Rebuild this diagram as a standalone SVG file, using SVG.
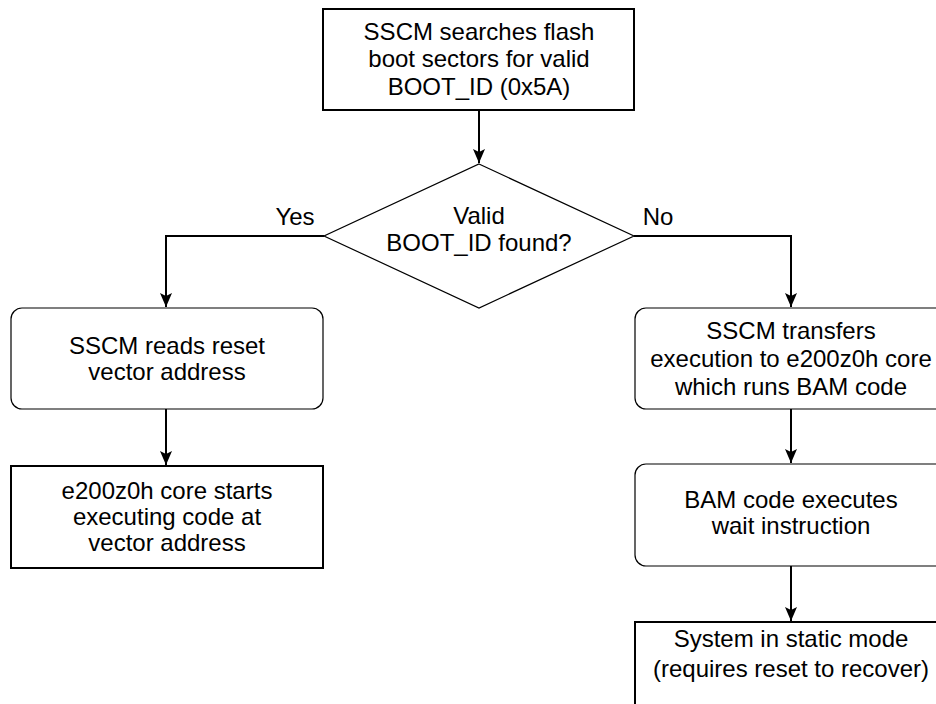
<svg xmlns="http://www.w3.org/2000/svg" width="936" height="704" viewBox="0 0 936 704">
<style>
.t{font-family:"Liberation Sans",Arial,Helvetica,sans-serif;font-size:24px;fill:#000;text-anchor:middle}
.thick{fill:#fff;stroke:#000;stroke-width:2}
.thin{fill:#fff;stroke:#000;stroke-width:1.2}
.c{fill:none;stroke:#000;stroke-width:2}
</style>
<defs>
<marker id="ah" markerUnits="userSpaceOnUse" markerWidth="16" markerHeight="14" refX="14" refY="6" orient="auto">
<path d="M0,0 L14,6 L0,12 L3,6 Z" fill="#000"/>
</marker>
</defs>
<rect width="936" height="704" fill="#fff"/>
<g id="connectors">
<path class="c" d="M479,110 V163" marker-end="url(#ah)"/>
<path class="c" d="M324,236 H166 V307" marker-end="url(#ah)"/>
<path class="c" d="M634,236 H791 V307" marker-end="url(#ah)"/>
<path class="c" d="M166,409 V465" marker-end="url(#ah)"/>
<path class="c" d="M791,409 V463" marker-end="url(#ah)"/>
<path class="c" d="M791,566 V621" marker-end="url(#ah)"/>
</g>
<g id="start">
<rect class="thick" x="323" y="9" width="311" height="101"/>
<text class="t" x="479" y="40">SSCM searches flash</text>
<text class="t" x="479" y="67">boot sectors for valid</text>
<text class="t" x="479" y="95">BOOT_ID (0x5A)</text>
</g>
<g id="decision">
<polygon class="thin" points="479,164 634,236 479,308 324,236"/>
<text class="t" x="479" y="224">Valid</text>
<text class="t" x="479" y="251">BOOT_ID found?</text>
</g>
<g id="label-yes"><text class="t" x="295" y="225">Yes</text></g>
<g id="label-no"><text class="t" x="658" y="225">No</text></g>
<g id="reads-vector">
<rect class="thin" x="11" y="308" width="312" height="101" rx="11"/>
<text class="t" x="167" y="354">SSCM reads reset</text>
<text class="t" x="167" y="380">vector address</text>
</g>
<g id="core-starts">
<rect class="thick" x="11" y="466" width="312" height="102"/>
<text class="t" x="167" y="499">e200z0h core starts</text>
<text class="t" x="167" y="525">executing code at</text>
<text class="t" x="167" y="551">vector address</text>
</g>
<g id="transfers">
<rect class="thin" x="635" y="308" width="312" height="101" rx="11"/>
<text class="t" x="791" y="339">SSCM transfers</text>
<text class="t" x="791" y="367">execution to e200z0h core</text>
<text class="t" x="791" y="395">which runs BAM code</text>
</g>
<g id="bam-wait">
<rect class="thin" x="635" y="464" width="312" height="102" rx="11"/>
<text class="t" x="791" y="508">BAM code executes</text>
<text class="t" x="791" y="534">wait instruction</text>
</g>
<g id="static-mode">
<rect class="thick" x="635" y="622" width="312" height="102"/>
<text class="t" x="791" y="647">System in static mode</text>
<text class="t" x="791" y="677">(requires reset to recover)</text>
</g>
</svg>
